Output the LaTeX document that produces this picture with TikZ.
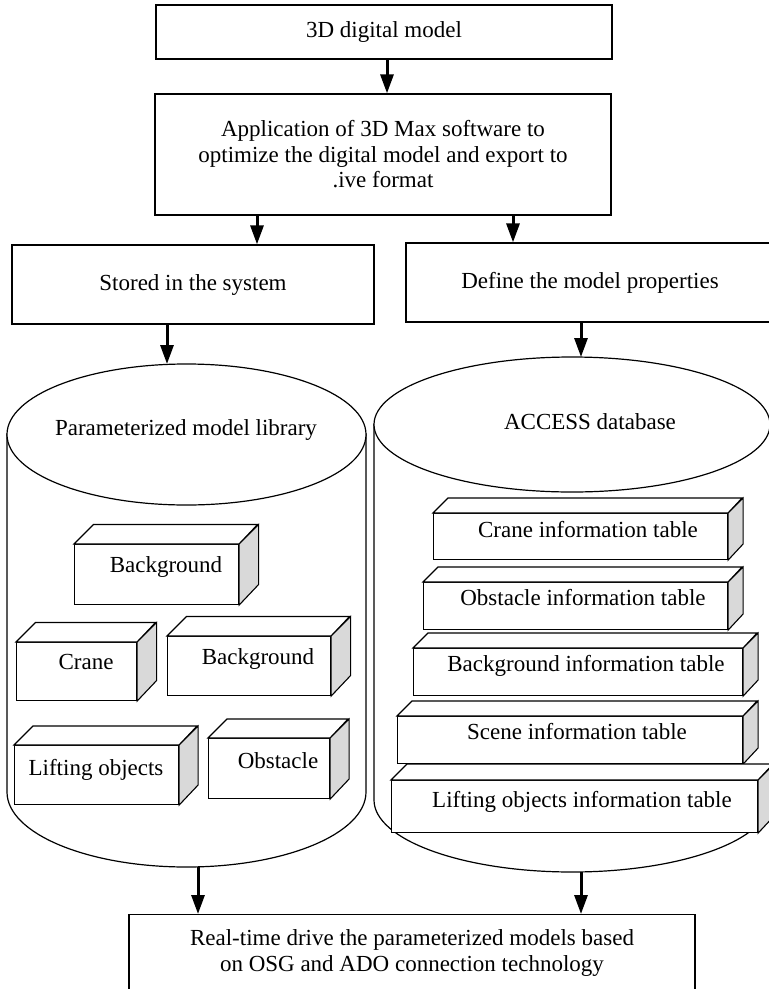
\documentclass[tikz,border=0pt]{standalone}
\usepackage{fontspec}
\setmainfont{Liberation Serif}
\usetikzlibrary{arrows.meta}

% front face as a named node, top face white, side face grey, label placed freely
\newcommand\cuboid[9]{%
  \node[face, anchor=north west, minimum width={#4-#2}, minimum height={#5-#3}] (#1) at (#2,#3) {};
  \draw[face] (#1.north west) -- ++(#6,-#6) -- ++({#4-#2},0) -- (#1.north east) -- cycle;
  \draw[sideface] (#1.north east) -- ++(#6,-#6) -- ++(0,{#5-#3}) -- (#1.south east) -- cycle;
  \node[lbl] (#1-label) at (#7,#8) {#9};
}

\begin{document}
\begin{tikzpicture}[x=1pt,y=-1pt,
  txt/.style={font=\fontsize{23}{25.5}\selectfont},
  box/.style={draw, line width=1.3pt, fill=white, inner sep=0pt, align=center, txt},
  arr/.style={line width=3pt, -{Triangle[length=19pt,width=13pt]}},
  face/.style={draw, line width=1.1pt, fill=white, inner sep=0pt, line join=miter},
  sideface/.style={face, fill=gray!30},
  lbl/.style={inner sep=0pt, txt, text height=15.5pt, text depth=0pt},
  cyl/.style={draw, line width=1.2pt, fill=white}
]
\clip (0,0) rectangle (769,989);

% process boxes
\node[box, minimum width=456, minimum height=54]  (b1) at (384,32)    {3D digital model};
\node[box, minimum width=456, minimum height=121] (b2) at (383,154.5)
  {Application of 3D Max software to\\optimize the digital model and export to\\.ive format};
\node[box, minimum width=362, minimum height=79]  (b3) at (193,284.5) {Stored in the system};
\node[box, minimum width=368, minimum height=79]  (b4) at (590,282.5) {Define the model properties};
\node[box, anchor=north, minimum width=566, minimum height=100] (b5) at (412,914) {};
\node[txt, align=center, inner sep=0pt] (b5-text) at (412,953)
  {Real-time drive the parameterized models based\\on OSG and ADO connection technology};

% model library cylinder
\path[cyl] (7,434) -- (7,792) arc[start angle=180, end angle=0, x radius=179.5, y radius=75] -- (366,434) -- cycle;
\draw[line width=1.2pt, fill=white] (186.5,434.5) ellipse[x radius=179.5, y radius=70.5];
\node[lbl] (lib) at (186,428) {Parameterized model library};
\coordinate (libtop) at (167,364);
\coordinate (libbot) at (198,867);

% database cylinder
\path[cyl] (374,424.5) -- (374,800) arc[start angle=180, end angle=0, x radius=198, y radius=72] -- (770,424.5) -- cycle;
\draw[line width=1.2pt, fill=white] (572,424.5) ellipse[x radius=198, y radius=67.5];
\node[lbl] (db) at (590,422) {ACCESS database};
\coordinate (dbtop) at (581,357);
\coordinate (dbbot) at (581,872);

% model blocks
\cuboid{bgA}{74}{544}{238}{604}{19.5}{166}{565}{Background}
\cuboid{crane}{16}{642}{136}{700}{19.5}{86}{662}{Crane}
\cuboid{bgB}{167}{636}{330}{695}{19.5}{258}{657}{Background}
\cuboid{lift}{14}{745}{178}{804}{19}{96}{768}{Lifting objects}
\cuboid{obst}{208}{738}{329}{798}{19}{278}{761}{Obstacle}

% information tables
\cuboid{tcrane}{433}{513}{727}{559}{15}{588}{530}{Crane information table}
\cuboid{tobst}{423}{582}{727}{629}{15}{583}{598}{Obstacle information table}
\cuboid{tbg}{413}{648}{742}{695}{15}{586}{664}{Background information table}
\cuboid{tscene}{397}{716}{742}{763}{15}{577}{732}{Scene information table}
\cuboid{tlift}{391}{780}{757}{832}{16}{582}{800}{Lifting objects information table}

% flow arrows
\draw[arr] ([xshift=3pt]b1.south) -- ([xshift=3pt]b1.south |- b2.north);
\draw[arr] ([xshift=-126pt]b2.south) -- ([xshift=-126pt]b2.south |- b3.north);
\draw[arr] ([xshift=130pt]b2.south) -- ([xshift=130pt]b2.south |- b4.north);
\draw[arr] (b3.south -| libtop) -- (libtop);
\draw[arr] (b4.south -| dbtop) -- (dbtop);
\draw[arr] (libbot) -- (libbot |- b5.north);
\draw[arr] (dbbot) -- (dbbot |- b5.north);
\end{tikzpicture}
\end{document}
